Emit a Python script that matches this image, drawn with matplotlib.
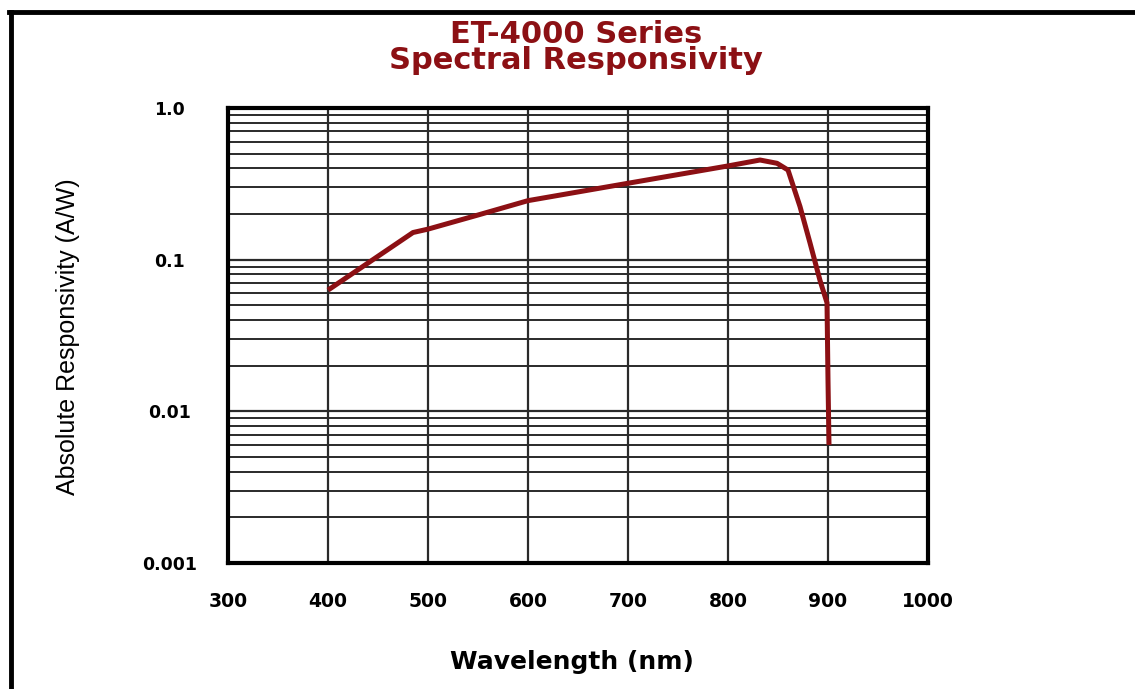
import matplotlib
matplotlib.use('Agg')
import matplotlib.pyplot as plt
from matplotlib.lines import Line2D
from matplotlib.ticker import FixedLocator, NullFormatter

wavelength = [400, 485, 500, 550, 600, 700, 800, 832, 849, 860, 872, 882, 892, 899, 900, 901]
responsivity = [0.063, 0.151, 0.159, 0.197, 0.245, 0.319, 0.415, 0.454, 0.432, 0.39,
                0.224, 0.129, 0.073, 0.052, 0.016, 0.006]

xticks = [300, 400, 500, 600, 700, 800, 900, 1000]
yticks = [0.001, 0.01, 0.1, 1.0]
ytick_labels = ['0.001', '0.01', '0.1', '1.0']

DARKRED = '#8c1014'

fig = plt.figure(figsize=(11.35, 6.89), dpi=100)
ax = fig.add_axes([228/1135, 1-563/689, 700/1135, 455/689])

ax.plot(wavelength, responsivity, color=DARKRED, lw=3.6, solid_capstyle='butt', zorder=3)

ax.set_yscale('log')
ax.set_xlim(300, 1000)
ax.set_ylim(0.001, 1.0)
ax.set_xticks(xticks)
ax.set_xticklabels([str(t) for t in xticks])
ax.set_yticks(yticks)
ax.set_yticklabels(ytick_labels)
minors = [m * 10.0**e for e in (-3, -2, -1) for m in range(2, 10)]
ax.yaxis.set_minor_locator(FixedLocator(minors))
ax.yaxis.set_minor_formatter(NullFormatter())

ax.grid(True, which='major', axis='both', color='#2a2a2a', lw=1.6)
ax.grid(True, which='minor', axis='y', color='#2a2a2a', lw=1.4)
ax.set_axisbelow(True)

for s in ax.spines.values():
    s.set_linewidth(3)
    s.set_color('black')

ax.tick_params(axis='both', which='both', length=0)
ax.tick_params(axis='x', pad=21)
ax.tick_params(axis='y', pad=42)
for lab in ax.get_xticklabels():
    lab.set_fontfamily('DejaVu Sans')
    lab.set_fontweight('bold')
    lab.set_fontsize(13.5)
for lab in ax.get_yticklabels():
    lab.set_fontfamily('DejaVu Sans')
    lab.set_fontweight('bold')
    lab.set_fontsize(12.5)
    lab.set_horizontalalignment('center')

# titles and axis labels
fig.text(576/1135, 1-69/689, 'ET-4000 Series\nSpectral Responsivity', color=DARKRED,
         fontsize=22, fontweight='bold', family='DejaVu Sans', ha='center',
         va='baseline', multialignment='center', linespacing=0.88)
fig.text(572/1135, 1-662/689, 'Wavelength (nm)', fontsize=18, fontweight='bold',
         family='DejaVu Sans', ha='center', va='center')
fig.text(68/1135, 1-337/689, 'Absolute Responsivity (A/W)', fontsize=18, rotation=90,
         family=['Liberation Sans Narrow', 'Liberation Sans'], ha='center', va='center')

# outer frame (left and top edges)
fig.add_artist(Line2D([11/1135, 11/1135], [0, 1-12/689], transform=fig.transFigure,
                      color='black', lw=3.5))
fig.add_artist(Line2D([9/1135, 1], [1-12/689, 1-12/689], transform=fig.transFigure,
                      color='black', lw=3.5))

fig.savefig('out.png', dpi=100)
